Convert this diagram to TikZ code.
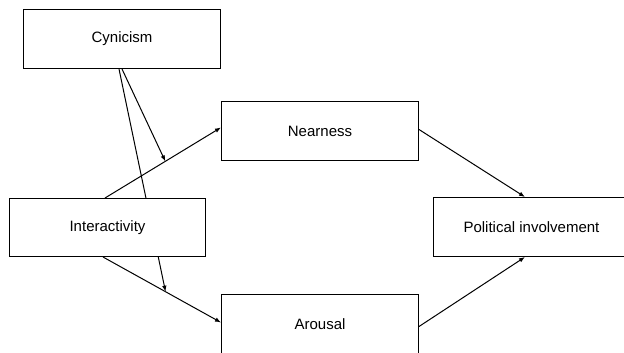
\documentclass[tikz,border=0pt]{standalone}
\usepackage{fontspec}
\setmainfont{Liberation Sans}
\usetikzlibrary{arrows.meta,backgrounds}
\begin{document}
\begin{tikzpicture}[x=1pt,y=-1pt,
  box/.style={draw=black,fill=white,line width=1pt,anchor=north west,
    minimum width=197pt,minimum height=59pt,inner sep=0pt,
    font=\fontsize{15}{18}\selectfont},
  arr/.style={draw=black,line width=1pt,-{Latex[length=6pt,width=4.5pt]}}]
\useasboundingbox (0,0) rectangle (624,353);
\clip (0,0) rectangle (624,353);
\node[box] (cyn) at (23,9) {Cynicism};
\node[box] (near) at (221,101) {Nearness};
\node[box,minimum width=196pt,minimum height=58pt] (inter) at (9,198) {Interactivity};
\node[box,minimum height=60pt] (arou) at (221,294) {Arousal};
\node[box,minimum width=210pt] (pol) at (433,197) {Political involvement\hspace*{14pt}};
\begin{pgfonlayer}{background}
\draw[arr] ([xshift=96pt]inter.north west) -- coordinate[pos=0.52] (m1) ([yshift=3.5pt]near.west);
\draw[arr] ([xshift=94pt]inter.south west) -- coordinate[pos=0.53] (m2) ([yshift=2pt]arou.west);
\draw[arr] ([xshift=99pt]cyn.south west) -- (m1);
\draw[arr] ([xshift=96pt]cyn.south west) -- (m2);
\draw[arr] ([yshift=1.5pt]near.east) -- ([xshift=92pt]pol.north west);
\draw[arr] ([yshift=-2pt]arou.east) -- ([xshift=92pt]pol.south west);
\end{pgfonlayer}
\end{tikzpicture}
\end{document}
